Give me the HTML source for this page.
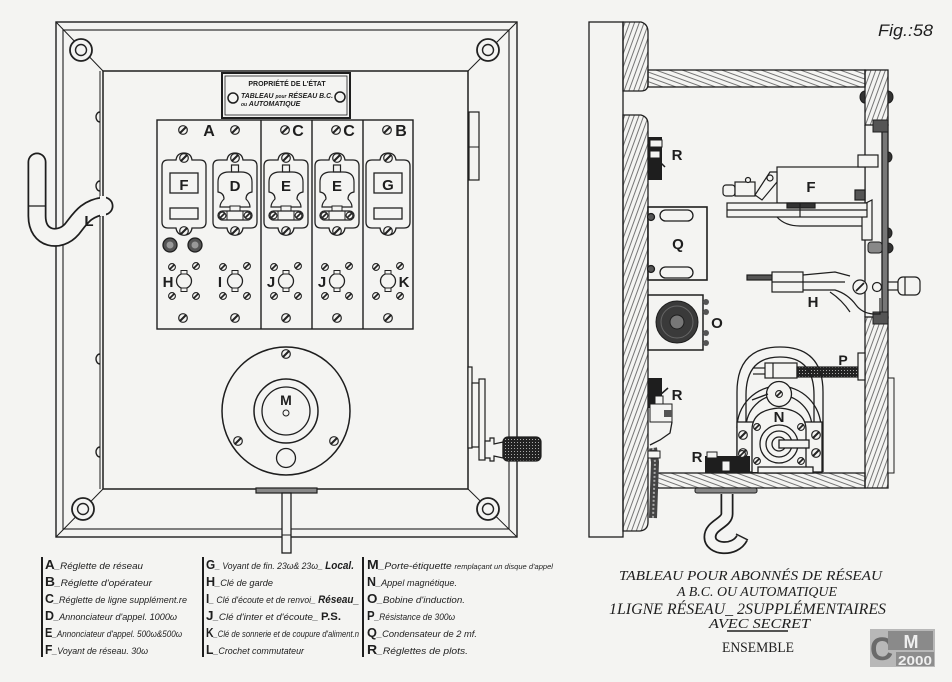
<!DOCTYPE html>
<html><head><meta charset="utf-8"><style>
html,body{margin:0;padding:0;background:#f4f4f2;}
svg{display:block}
</style></head><body>
<svg width="952" height="682" viewBox="0 0 952 682" xmlns="http://www.w3.org/2000/svg" font-family="'Liberation Sans', sans-serif">
<defs>
<pattern id="hw" width="4.5" height="4.5" patternUnits="userSpaceOnUse" patternTransform="rotate(20)"><line x1="1" y1="0" x2="1" y2="4.5" stroke="#555" stroke-width="0.8"/></pattern>
<pattern id="hb" width="4.5" height="4.5" patternUnits="userSpaceOnUse" patternTransform="rotate(-70)"><line x1="1" y1="0" x2="1" y2="4.5" stroke="#555" stroke-width="0.8"/></pattern>
<pattern id="kn" width="3" height="3" patternUnits="userSpaceOnUse"><rect width="3" height="3" fill="#222"/><rect x="1" y="1" width="1" height="1" fill="#aaa"/></pattern>
<g id="sc"><circle r="4.3" fill="#f4f4f2" stroke="#222" stroke-width="1.2"/><line x1="-3" y1="3" x2="3" y2="-3" stroke="#222" stroke-width="2"/></g>
<g id="ss"><circle r="3.4" fill="#f4f4f2" stroke="#222" stroke-width="1.1"/><line x1="-2.4" y1="2.4" x2="2.4" y2="-2.4" stroke="#222" stroke-width="1.7"/></g>
<g id="cs"><circle r="11" fill="#f4f4f2" stroke="#222" stroke-width="1.8"/><circle r="5.5" fill="none" stroke="#222" stroke-width="1.4"/></g>
<path id="pl" d="M-22,10 Q-22,4 -16,4 L-8,4 Q-7,-3 0,-3 Q7,-3 8,4 L16,4 Q22,4 22,10 L22,66 Q22,72 16,72 L8,72 Q7,79 0,79 Q-7,79 -8,72 L-16,72 Q-22,72 -22,66 Z" fill="none" stroke="#222" stroke-width="1.3"/>
<g id="bell">
<rect x="-3.5" y="9" width="7" height="7" fill="none" stroke="#222" stroke-width="1.2"/>
<path d="M-17,26 Q-17,16 -6,16 L6,16 Q17,16 17,26 L17,36 Q11,37 11,43 Q15,47 15,51 L-15,51 Q-15,47 -11,43 Q-11,37 -17,36 Z" fill="none" stroke="#222" stroke-width="1.2"/>
<rect x="-5" y="50" width="10" height="5" fill="#f4f4f2" stroke="#222" stroke-width="1"/>
<rect x="-17" y="55" width="34" height="9" rx="4.5" fill="none" stroke="#222" stroke-width="1.3"/>
<line x1="-8" y1="55" x2="-8" y2="64" stroke="#222"/><line x1="8" y1="55" x2="8" y2="64" stroke="#222"/>
<use href="#ss" x="-12.5" y="59.5"/><use href="#ss" x="12.5" y="59.5"/>
</g>
<g id="key">
<circle r="7.5" fill="none" stroke="#222" stroke-width="1.3"/>
<rect x="-3" y="-10.5" width="6" height="3.5" fill="#f4f4f2" stroke="#222" stroke-width="1"/>
<rect x="-3" y="7" width="6" height="3.5" fill="#f4f4f2" stroke="#222" stroke-width="1"/>
<use href="#ss" x="-12" y="-14"/><use href="#ss" x="12" y="-15"/>
<use href="#ss" x="-12" y="15"/><use href="#ss" x="12" y="15"/>
</g>
</defs>

<rect width="952" height="682" fill="#f4f4f2"/>

<!-- ============ LEFT DRAWING ============ -->
<g stroke="#1e1e1e" fill="none" stroke-width="1.4">
<rect x="56" y="22" width="461" height="515"/>
<rect x="63" y="30" width="446" height="499" stroke-width="1.1"/>
<rect x="103" y="71" width="365" height="418" stroke-width="1.5"/>
<line x1="100" y1="71" x2="100" y2="489" stroke-width="1"/>
<line x1="56" y1="22" x2="103" y2="71" stroke-width="1"/>
<line x1="517" y1="22" x2="468" y2="71" stroke-width="1"/>
<line x1="56" y1="537" x2="103" y2="489" stroke-width="1"/>
<line x1="517" y1="537" x2="468" y2="489" stroke-width="1"/>
<path d="M100,112 A4,5 0 0 0 100,122" /><path d="M100,181 A4,5 0 0 0 100,191"/>
<path d="M100,354 A4,5 0 0 0 100,364"/><path d="M100,447 A4,5 0 0 0 100,457"/>
<rect x="469" y="112" width="10" height="68" stroke-width="1.2"/>
<line x1="469" y1="147" x2="479" y2="147" stroke-width="1"/>
</g>
<use href="#cs" x="81" y="50"/><use href="#cs" x="488" y="50"/>
<use href="#cs" x="83" y="509"/><use href="#cs" x="488" y="509"/>

<!-- Nameplate -->
<rect x="222" y="73" width="128" height="45" fill="#f4f4f2" stroke="#1e1e1e" stroke-width="2"/>
<rect x="225" y="76" width="122" height="39" fill="none" stroke="#1e1e1e" stroke-width="0.8"/>
<circle cx="233" cy="98" r="5" fill="none" stroke="#1e1e1e" stroke-width="1.5"/>
<circle cx="340" cy="97" r="5" fill="none" stroke="#1e1e1e" stroke-width="1.5"/>
<text x="287" y="86" font-size="7" font-weight="bold" text-anchor="middle" fill="#1e1e1e">PROPRIÉTÉ DE L'ÉTAT</text>
<text x="241" y="98" font-size="7" font-weight="bold" font-style="italic" fill="#1e1e1e" textLength="92" lengthAdjust="spacingAndGlyphs">TABLEAU <tspan font-size="5">pour</tspan> RÉSEAU B.C.</text>
<text x="241" y="106" font-size="7" font-weight="bold" font-style="italic" fill="#1e1e1e"><tspan font-size="5">ou</tspan> AUTOMATIQUE</text>

<!-- Reglette panel -->
<g stroke="#1e1e1e" fill="none" stroke-width="1.4">
<rect x="157" y="120" width="256" height="209"/>
<line x1="261" y1="120" x2="261" y2="329"/>
<line x1="312" y1="120" x2="312" y2="329"/>
<line x1="363" y1="120" x2="363" y2="329"/>
</g>
<g font-size="16" font-weight="bold" fill="#1e1e1e" text-anchor="middle">
<text x="209" y="136">A</text><text x="298" y="136">C</text><text x="349" y="136">C</text><text x="401" y="136">B</text>
</g>
<use href="#sc" x="183" y="130"/><use href="#sc" x="235" y="130"/><use href="#sc" x="285" y="130"/><use href="#sc" x="336" y="130"/><use href="#sc" x="387" y="130"/>
<use href="#sc" x="183" y="318"/><use href="#sc" x="235" y="318"/><use href="#sc" x="286" y="318"/><use href="#sc" x="337" y="318"/><use href="#sc" x="388" y="318"/>

<!-- plates -->
<g transform="translate(184,156)">
<use href="#pl"/>
<rect x="-14" y="17" width="28" height="20" fill="none" stroke="#222" stroke-width="1.3"/>
<rect x="-14" y="52" width="28" height="11" fill="none" stroke="#222" stroke-width="1.3"/>
<text x="0" y="34" font-size="15" font-weight="bold" text-anchor="middle" fill="#1e1e1e">F</text>
</g>
<g transform="translate(235,156)"><use href="#pl"/><use href="#bell"/><text x="0" y="35" font-size="15" font-weight="bold" text-anchor="middle" fill="#1e1e1e">D</text></g>
<g transform="translate(286,156)"><use href="#pl"/><use href="#bell"/><text x="0" y="35" font-size="15" font-weight="bold" text-anchor="middle" fill="#1e1e1e">E</text></g>
<g transform="translate(337,156)"><use href="#pl"/><use href="#bell"/><text x="0" y="35" font-size="15" font-weight="bold" text-anchor="middle" fill="#1e1e1e">E</text></g>
<g transform="translate(388,156)">
<use href="#pl"/>
<rect x="-14" y="17" width="28" height="20" fill="none" stroke="#222" stroke-width="1.3"/>
<rect x="-14" y="52" width="28" height="11" fill="none" stroke="#222" stroke-width="1.3"/>
<text x="0" y="34" font-size="15" font-weight="bold" text-anchor="middle" fill="#1e1e1e">G</text>
</g>
<use href="#sc" x="184" y="158"/><use href="#sc" x="184" y="231"/>
<use href="#sc" x="235" y="158"/><use href="#sc" x="235" y="231"/>
<use href="#sc" x="286" y="158"/><use href="#sc" x="286" y="231"/>
<use href="#sc" x="337" y="158"/><use href="#sc" x="337" y="231"/>
<use href="#sc" x="388" y="158"/><use href="#sc" x="388" y="231"/>
<circle cx="170" cy="245" r="7" fill="#555" stroke="#1e1e1e" stroke-width="1.3"/><circle cx="170" cy="245" r="3.5" fill="#999"/>
<circle cx="195" cy="245" r="7" fill="#555" stroke="#1e1e1e" stroke-width="1.3"/><circle cx="195" cy="245" r="3.5" fill="#999"/>

<!-- keys -->
<use href="#key" x="184" y="281"/><use href="#key" x="235" y="281"/><use href="#key" x="286" y="281"/><use href="#key" x="337" y="281"/><use href="#key" x="388" y="281"/>
<g font-size="15" font-weight="bold" fill="#1e1e1e" text-anchor="middle">
<text x="168" y="287">H</text><text x="220" y="287">I</text><text x="271" y="287">J</text><text x="322" y="287">J</text><text x="404" y="287">K</text>
</g>

<!-- Dial M -->
<circle cx="286" cy="411" r="64" fill="none" stroke="#1e1e1e" stroke-width="1.5"/>
<circle cx="286" cy="411" r="32" fill="none" stroke="#1e1e1e" stroke-width="1.5"/>
<circle cx="286" cy="411" r="24" fill="none" stroke="#1e1e1e" stroke-width="1.3"/>
<circle cx="286" cy="413" r="3" fill="none" stroke="#1e1e1e" stroke-width="1"/>
<circle cx="286" cy="458" r="9.5" fill="none" stroke="#1e1e1e" stroke-width="1.3"/>
<text x="286" y="405" font-size="14" font-weight="bold" text-anchor="middle" fill="#1e1e1e">M</text>
<use href="#sc" x="286" y="354"/><use href="#sc" x="238" y="441"/><use href="#sc" x="334" y="441"/>

<!-- bottom stem -->
<rect x="256" y="488" width="61" height="5" fill="#888" stroke="#1e1e1e" stroke-width="1.2"/>
<rect x="282" y="493" width="9" height="60" fill="#f4f4f2" stroke="#1e1e1e" stroke-width="1.3"/>
<line x1="282" y1="535" x2="291" y2="535" stroke="#1e1e1e"/>

<!-- crank right -->
<g stroke="#1e1e1e" stroke-width="1.2" fill="#f4f4f2">
<rect x="468" y="367" width="4" height="81"/>
<rect x="472" y="383" width="7" height="64"/>
<rect x="479" y="379" width="6" height="81"/>
<path d="M485,441 L490,441 L490,438 L494,438 L494,444 L503,442 L503,458 L494,456 L494,461 L490,461 L490,458 L485,458 Z"/>
<rect x="503" y="437" width="38" height="24" rx="5" fill="url(#kn)"/>
</g>

<!-- hook L -->
<path d="M37,162 L37,216 C37,240 60,243 72,229 C80,219 86,208 104,206" fill="none" stroke="#1e1e1e" stroke-width="19" stroke-linecap="round"/>
<path d="M37,162 L37,216 C37,240 60,243 72,229 C80,219 86,208 104,206" fill="none" stroke="#f4f4f2" stroke-width="15.5" stroke-linecap="round"/>
<rect x="100" y="196" width="6" height="20" fill="#f4f4f2"/>
<line x1="28" y1="206" x2="46" y2="206" stroke="#1e1e1e" stroke-width="1.2"/>
<text x="89" y="226" font-size="15" font-weight="bold" text-anchor="middle" fill="#1e1e1e">L</text>

<!-- ============ RIGHT DRAWING ============ -->
<g stroke="#1e1e1e" stroke-width="1.3">
<rect x="589" y="22" width="34" height="515" fill="#f4f4f2"/>
<path d="M623,22 L641,22 Q648,24 648,32 L648,84 Q648,91 641,91 L623,91 Z" fill="url(#hw)"/>
<path d="M623,115 L641,115 Q648,117 648,124 L648,522 Q648,530 640,531 L623,531 Z" fill="url(#hw)"/>
<rect x="648" y="70" width="217" height="17" fill="url(#hb)"/>
<rect x="865" y="70" width="23" height="55" fill="url(#hw)"/>
<rect x="882" y="125" width="6" height="193" fill="#777"/>
<line x1="865" y1="125" x2="865" y2="317"/>
<rect x="865" y="317" width="23" height="171" fill="url(#hw)"/>
<rect x="657" y="473" width="208" height="15" fill="url(#hb)"/>
<rect x="888" y="378" width="6" height="95" fill="#f4f4f2" stroke-width="1"/>
</g>
<g fill="#333" stroke="#1e1e1e">
<path d="M888,91 A5,6 0 0 1 888,103 Z"/><path d="M865,91 A5,6 0 0 0 865,103 Z"/>
<rect x="873" y="120" width="15" height="12" fill="#555"/>
<path d="M888,152 A4,5 0 0 1 888,162 Z"/><path d="M888,228 A4,5 0 0 1 888,238 Z"/>
<path d="M888,243 A5,5 0 0 1 888,253 Z"/>
<rect x="868" y="242" width="14" height="11" rx="3" fill="#888"/>
<rect x="873" y="312" width="15" height="12" fill="#555"/>
</g>

<!-- R top -->
<rect x="648" y="137" width="14" height="43" fill="#1e1e1e"/>
<rect x="650" y="140" width="12" height="7" fill="#f4f4f2" stroke="#1e1e1e"/>
<rect x="650" y="151" width="10" height="7" fill="#f4f4f2" stroke="#1e1e1e"/>
<line x1="658" y1="160" x2="665" y2="167" stroke="#1e1e1e" stroke-width="1.5"/>
<text x="677" y="160" font-size="15" font-weight="bold" text-anchor="middle" fill="#1e1e1e">R</text>

<!-- F -->
<g stroke="#1e1e1e" stroke-width="1.2" fill="#f4f4f2">
<rect x="777" y="167" width="88" height="36"/>
<rect x="858" y="155" width="20" height="12"/>
<rect x="855" y="190" width="10" height="10" fill="#555"/>
<path d="M862,205 L872,200 L872,240 L862,240 Z"/>
<rect x="727" y="203" width="140" height="14"/>
<rect x="787" y="203" width="28" height="5" fill="#333"/>
<line x1="727" y1="210" x2="867" y2="210"/>
<line x1="800" y1="203" x2="800" y2="217"/>
<path d="M777,217 Q785,226 800,226 L862,226" fill="none"/>
<rect x="723" y="185" width="12" height="11" rx="3"/>
<rect x="735" y="182" width="20" height="14"/>
<path d="M755,195 L770,172 L777,172 L777,182 L762,200 Z"/>
<circle cx="770" cy="178" r="3"/><circle cx="748" cy="180" r="2.5"/>
</g>
<text x="811" y="192" font-size="15" font-weight="bold" text-anchor="middle" fill="#1e1e1e">F</text>

<!-- Q -->
<g stroke="#1e1e1e" stroke-width="1.3" fill="#f4f4f2">
<rect x="648" y="207" width="59" height="73" stroke-width="1.6"/>
<rect x="660" y="210" width="33" height="11" rx="5.5"/>
<rect x="660" y="267" width="33" height="11" rx="5.5"/>
<circle cx="651" cy="217" r="3.5" fill="#555"/><circle cx="651" cy="269" r="3.5" fill="#555"/>
</g>
<text x="678" y="249" font-size="15" font-weight="bold" text-anchor="middle" fill="#1e1e1e">Q</text>

<!-- H -->
<g stroke="#1e1e1e" stroke-width="1.2" fill="#f4f4f2">
<rect x="747" y="275" width="30" height="5" fill="#555"/>
<rect x="772" y="272" width="31" height="20"/>
<line x1="772" y1="282" x2="803" y2="282"/>
<path d="M803,275 L835,272 L850,276" fill="none"/>
<path d="M803,282 L845,282" fill="none"/>
<path d="M803,290 L835,290 Q848,294 856,305 Q862,313 873,314 L880,314 L880,298" fill="none"/>
<path d="M830,292 Q842,300 850,312" fill="none"/>
<circle cx="860" cy="287" r="7"/><line x1="856" y1="291" x2="864" y2="283" stroke-width="1.8"/>
<circle cx="877" cy="287" r="4.5"/>
<rect x="888" y="282" width="10" height="8"/>
<rect x="898" y="277" width="22" height="18" rx="5"/>
<line x1="905" y1="277" x2="905" y2="295"/>
</g>
<text x="813" y="307" font-size="15" font-weight="bold" text-anchor="middle" fill="#1e1e1e">H</text>

<!-- O -->
<rect x="648" y="295" width="55" height="55" fill="#f4f4f2" stroke="#1e1e1e" stroke-width="1.5"/>
<circle cx="677" cy="322" r="21" fill="#3a3a3a" stroke="#1e1e1e"/>
<circle cx="677" cy="322" r="16" fill="none" stroke="#666" stroke-width="1"/>
<circle cx="677" cy="322" r="7" fill="#777" stroke="#1e1e1e"/>
<circle cx="706" cy="302" r="3" fill="#555"/><circle cx="706" cy="312" r="3" fill="#555"/><circle cx="706" cy="333" r="3" fill="#555"/><circle cx="706" cy="343" r="3" fill="#555"/>
<text x="717" y="328" font-size="15" font-weight="bold" text-anchor="middle" fill="#1e1e1e">O</text>

<!-- P -->
<g stroke="#1e1e1e" stroke-width="1.2" fill="#f4f4f2">
<line x1="753" y1="368" x2="765" y2="368"/><line x1="753" y1="374" x2="765" y2="374"/>
<rect x="765" y="363" width="32" height="15"/>
<line x1="773" y1="363" x2="773" y2="378"/>
<rect x="797" y="367" width="61" height="10" fill="url(#kn)"/>
<rect x="858" y="353" width="7" height="27"/>
</g>
<text x="843" y="365" font-size="14" font-weight="bold" text-anchor="middle" fill="#1e1e1e">P</text>

<!-- N -->
<g stroke="#1e1e1e" stroke-width="1.3" fill="none">
<path d="M737,472 L737,392 Q737,347 780,347 Q823,347 823,392 L823,472"/>
<path d="M746,422 L746,395 Q746,357 780,357 Q814,357 814,395 L814,422"/>
<path d="M737,428 A42,42 0 0 1 821,428"/>
<path d="M746,428 A33,33 0 0 1 812,428"/>
<rect x="737" y="422" width="85" height="50" fill="#f4f4f2"/>
<path d="M752,472 L752,430 Q752,410 779,408 Q806,410 806,430 L806,472" fill="#f4f4f2"/>
<circle cx="779" cy="394" r="12.5" fill="#f4f4f2"/>
<line x1="752" y1="400" x2="768" y2="394"/>
<circle cx="779" cy="444" r="19"/>
<circle cx="779" cy="444" r="13"/>
<circle cx="779" cy="444" r="7"/>
<rect x="779" y="440" width="30" height="8" fill="#f4f4f2"/>
<rect x="758" y="467" width="55" height="6" fill="#f4f4f2"/>
</g>
<use href="#ss" x="779" y="394"/>
<use href="#ss" x="757" y="427"/><use href="#ss" x="801" y="427"/><use href="#ss" x="757" y="461"/><use href="#ss" x="801" y="461"/>
<use href="#sc" x="743" y="435"/><use href="#sc" x="743" y="453"/><use href="#sc" x="816" y="435"/><use href="#sc" x="816" y="453"/>
<text x="779" y="422" font-size="15" font-weight="bold" text-anchor="middle" fill="#1e1e1e">N</text>

<!-- R middle -->
<rect x="648" y="378" width="14" height="30" fill="#1e1e1e"/>
<rect x="650" y="404" width="22" height="18" fill="#f4f4f2" stroke="#1e1e1e"/>
<rect x="655" y="396" width="8" height="8" fill="#f4f4f2" stroke="#1e1e1e"/>
<rect x="664" y="410" width="8" height="7" fill="#555"/>
<line x1="660" y1="395" x2="668" y2="388" stroke="#1e1e1e" stroke-width="1.5"/>
<path d="M672,422 L670,433 L660,440 L650,445" fill="none" stroke="#1e1e1e" stroke-width="1.3"/>
<text x="677" y="400" font-size="15" font-weight="bold" text-anchor="middle" fill="#1e1e1e">R</text>
<path d="M653,448 L655,462 L653,518" fill="none" stroke="#444" stroke-width="8"/>
<path d="M653,448 L655,462 L653,518" fill="none" stroke="#aaa" stroke-width="2" stroke-dasharray="2 2"/>
<rect x="648" y="451" width="12" height="7" fill="#f4f4f2" stroke="#1e1e1e"/>

<!-- R bottom -->
<rect x="705" y="456" width="45" height="17" fill="#1e1e1e"/>
<rect x="707" y="452" width="10" height="6" fill="#f4f4f2" stroke="#1e1e1e"/>
<rect x="722" y="461" width="8" height="10" fill="#f4f4f2" stroke="#1e1e1e"/>
<use href="#ss" x="742" y="454"/>
<text x="697" y="462" font-size="15" font-weight="bold" text-anchor="middle" fill="#1e1e1e">R</text>

<!-- hook right -->
<rect x="695" y="488" width="62" height="5" rx="2" fill="#888" stroke="#1e1e1e"/>
<path d="M727,494 L727,514 C727,523 710,525 710,537 C710,550 735,552 742,538" fill="none" stroke="#1e1e1e" stroke-width="13"/>
<path d="M727,494 L727,514 C727,523 710,525 710,537 C710,550 735,552 742,538" fill="none" stroke="#f4f4f2" stroke-width="9.5"/>
<line x1="736" y1="534" x2="748" y2="540" stroke="#1e1e1e" stroke-width="1.3"/>

<!-- Fig -->
<text x="878" y="36" font-size="17" font-style="italic" fill="#1e1e1e" textLength="55" lengthAdjust="spacingAndGlyphs">Fig.:58</text>

<!-- ============ LEGEND ============ -->
<g stroke="#1e1e1e" stroke-width="2">
<line x1="42" y1="557" x2="42" y2="657"/>
<line x1="203" y1="557" x2="203" y2="657"/>
<line x1="363" y1="557" x2="363" y2="657"/>
</g>
<g fill="#1e1e1e" font-size="9.5" font-style="italic">
<text x="45" y="569" textLength="98" lengthAdjust="spacingAndGlyphs"><tspan font-size="13" font-weight="bold" font-style="normal">A</tspan>_Réglette de réseau</text>
<text x="45" y="586" textLength="107" lengthAdjust="spacingAndGlyphs"><tspan font-size="13" font-weight="bold" font-style="normal">B</tspan>_Réglette d'opérateur</text>
<text x="45" y="603" textLength="142" lengthAdjust="spacingAndGlyphs"><tspan font-size="13" font-weight="bold" font-style="normal">C</tspan>_Réglette de ligne supplément.re</text>
<text x="45" y="620" textLength="132" lengthAdjust="spacingAndGlyphs"><tspan font-size="13" font-weight="bold" font-style="normal">D</tspan>_Annonciateur d'appel. 1000ω</text>
<text x="45" y="637" textLength="137" lengthAdjust="spacingAndGlyphs"><tspan font-size="13" font-weight="bold" font-style="normal">E</tspan>_Annonciateur d'appel. 500ω&amp;500ω</text>
<text x="45" y="654" textLength="103" lengthAdjust="spacingAndGlyphs"><tspan font-size="13" font-weight="bold" font-style="normal">F</tspan>_Voyant de réseau. 30ω</text>

<text x="206" y="569" textLength="148" lengthAdjust="spacingAndGlyphs"><tspan font-size="13" font-weight="bold" font-style="normal">G</tspan>_ Voyant de fin. 23ω&amp; 23ω_ <tspan font-size="11" font-weight="bold">Local.</tspan></text>
<text x="206" y="586" textLength="67" lengthAdjust="spacingAndGlyphs"><tspan font-size="13" font-weight="bold" font-style="normal">H</tspan>_Clé de garde</text>
<text x="206" y="603" textLength="153" lengthAdjust="spacingAndGlyphs"><tspan font-size="13" font-weight="bold" font-style="normal">I</tspan>_ Clé d'écoute et de renvoi_ <tspan font-size="11" font-weight="bold">Réseau_</tspan></text>
<text x="206" y="620" textLength="135" lengthAdjust="spacingAndGlyphs"><tspan font-size="13" font-weight="bold" font-style="normal">J</tspan>_Clé d'inter et d'écoute_ <tspan font-size="11" font-weight="bold" font-style="normal">P.S.</tspan></text>
<text x="206" y="637" textLength="153" lengthAdjust="spacingAndGlyphs"><tspan font-size="13" font-weight="bold" font-style="normal">K</tspan>_Clé de sonnerie et de coupure d'aliment.n</text>
<text x="206" y="654" textLength="98" lengthAdjust="spacingAndGlyphs"><tspan font-size="13" font-weight="bold" font-style="normal">L</tspan>_Crochet commutateur</text>

<text x="367" y="569" textLength="186" lengthAdjust="spacingAndGlyphs"><tspan font-size="13" font-weight="bold" font-style="normal">M</tspan>_Porte-étiquette <tspan font-size="7">remplaçant un disque d'appel</tspan></text>
<text x="367" y="586" textLength="90" lengthAdjust="spacingAndGlyphs"><tspan font-size="13" font-weight="bold" font-style="normal">N</tspan>_Appel magnétique.</text>
<text x="367" y="603" textLength="98" lengthAdjust="spacingAndGlyphs"><tspan font-size="13" font-weight="bold" font-style="normal">O</tspan>_Bobine d'induction.</text>
<text x="367" y="620" textLength="88" lengthAdjust="spacingAndGlyphs"><tspan font-size="13" font-weight="bold" font-style="normal">P</tspan>_Résistance de 300ω</text>
<text x="367" y="637" textLength="110" lengthAdjust="spacingAndGlyphs"><tspan font-size="13" font-weight="bold" font-style="normal">Q</tspan>_Condensateur de 2 mf.</text>
<text x="367" y="654" textLength="101" lengthAdjust="spacingAndGlyphs"><tspan font-size="13" font-weight="bold" font-style="normal">R</tspan>_Réglettes de plots.</text>
</g>

<!-- ============ TITLE ============ -->
<g fill="#1e1e1e" font-family="'Liberation Serif', serif" font-style="italic">
<text x="619" y="580" font-size="14" textLength="263" lengthAdjust="spacingAndGlyphs">TABLEAU POUR ABONNÉS DE RÉSEAU</text>
<text x="677" y="596" font-size="14" textLength="160" lengthAdjust="spacingAndGlyphs">A B.C. OU AUTOMATIQUE</text>
<text x="609" y="614" font-size="16" textLength="277" lengthAdjust="spacingAndGlyphs">1LIGNE RÉSEAU_ 2SUPPLÉMENTAIRES</text>
<text x="709" y="628" font-size="14" textLength="101" lengthAdjust="spacingAndGlyphs">AVEC SECRET</text>
</g>
<line x1="727" y1="631" x2="788" y2="631" stroke="#1e1e1e" stroke-width="1.5"/>
<text x="722" y="652" font-size="15" font-family="'Liberation Serif', serif" fill="#1e1e1e" textLength="72" lengthAdjust="spacingAndGlyphs">ENSEMBLE</text>

<!-- logo -->
<rect x="870" y="629" width="65" height="38" fill="#b8b8b8"/>
<text x="870" y="660" font-size="32" font-weight="bold" fill="#6a6a6a">C</text>
<rect x="888" y="631" width="45" height="19" fill="#8a8a8a"/>
<text x="911" y="648" font-size="18" font-weight="bold" fill="#eeeeee" text-anchor="middle">M</text>
<rect x="896" y="652" width="38" height="14" fill="#8d8d8d"/>
<text x="898" y="665" font-size="13" font-weight="bold" fill="#f0f0f0" textLength="34" lengthAdjust="spacingAndGlyphs">2000</text>
</svg>
</body></html>
